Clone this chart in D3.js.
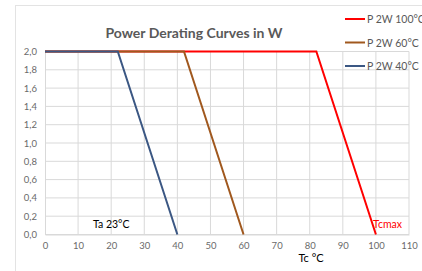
<!DOCTYPE html>
<html>
<head>
<meta charset="utf-8">
<script src="https://cdn.jsdelivr.net/npm/d3@7"></script>
<style>
  body { margin: 0; background: #fff; }
  text { font-family: Lato, "Open Sans", sans-serif; }
</style>
</head>
<body>
<div id="chart"></div>
<script>
// series: Tc (°C) -> P (W)
var seriesNames = ["P 2W 100°C", "P 2W 60°C", "P 2W 40°C"];
var seriesColors = ["#ff0000", "#a0581e", "#3b5783"];
var tc100 = [0, 82, 100];
var p100 = [2.0, 2.0, 0.0];
var tc60 = [0, 42, 60];
var p60 = [2.0, 2.0, 0.0];
var tc40 = [0, 22, 40];
var p40 = [2.0, 2.0, 0.0];
var xTicks = [0, 10, 20, 30, 40, 50, 60, 70, 80, 90, 100, 110];
var yTicks = [0, 0.2, 0.4, 0.6, 0.8, 1.0, 1.2, 1.4, 1.6, 1.8, 2.0];

var width = 422, height = 271;
var margin = { top: 51.5, right: 13, bottom: 36.5, left: 45 };

var svg = d3.select("#chart").append("svg")
    .attr("width", width)
    .attr("height", height);

// chart frame
svg.append("rect")
    .attr("x", 15.5).attr("y", 5.5)
    .attr("width", width + 10).attr("height", height + 10)
    .attr("fill", "none")
    .attr("stroke", "#e3e3e3");

var x = d3.scaleLinear().domain([0, 110]).range([margin.left, width - margin.right]);
var y = d3.scaleLinear().domain([0, 2]).range([height - margin.bottom, margin.top]);

// grid
svg.append("g").selectAll("line").data(xTicks.slice(1)).enter().append("line")
    .attr("x1", d => x(d)).attr("x2", d => x(d))
    .attr("y1", y(0)).attr("y2", y(2))
    .attr("stroke", "#d9d9d9");
svg.append("g").selectAll("line").data(yTicks).enter().append("line")
    .attr("x1", x(0)).attr("x2", x(110))
    .attr("y1", d => y(d)).attr("y2", d => y(d))
    .attr("stroke", "#d9d9d9");

// axes
var xAxis = d3.axisBottom(x).tickValues(xTicks).tickSize(0).tickPadding(8);
var gx = svg.append("g")
    .attr("transform", "translate(0," + y(0) + ")")
    .call(xAxis);
gx.select(".domain").attr("stroke", "#d9d9d9");
gx.selectAll("text").attr("fill", "#6a6a6a").attr("font-size", 9.5);

var yAxis = d3.axisLeft(y).tickValues(yTicks).tickSize(0).tickPadding(8)
    .tickFormat(d => d3.format(".1f")(d).replace(".", ","));
var gy = svg.append("g")
    .attr("transform", "translate(" + x(0) + ",0)")
    .call(yAxis);
gy.select(".domain").attr("stroke", "#d9d9d9");
gy.selectAll("text").attr("fill", "#6a6a6a").attr("font-size", 9.5);

// lines
var line = d3.line().x(d => x(d[0])).y(d => y(d[1]));
var series = [d3.zip(tc100, p100), d3.zip(tc60, p60), d3.zip(tc40, p40)];
svg.append("g").selectAll("path").data(series).enter().append("path")
    .attr("d", line)
    .attr("fill", "none")
    .attr("stroke", (d, i) => seriesColors[i])
    .attr("stroke-width", 2);

// title
svg.append("text")
    .attr("x", 194).attr("y", 38)
    .attr("text-anchor", "middle")
    .attr("font-size", 14)
    .attr("font-weight", "bold")
    .attr("fill", "#595959")
    .text("Power Derating Curves in W");

// legend
var legend = svg.append("g").selectAll("g").data(seriesNames).enter().append("g")
    .attr("transform", (d, i) => "translate(345," + (19 + i * 23.5) + ")");
legend.append("line")
    .attr("x1", 0).attr("x2", 20)
    .attr("stroke", (d, i) => seriesColors[i])
    .attr("stroke-width", 2);
legend.append("text")
    .attr("x", 22).attr("y", 4)
    .attr("font-size", 10.5)
    .attr("fill", "#595959")
    .text(d => d);

// annotations
svg.append("text")
    .attr("x", 93).attr("y", 228)
    .attr("font-size", 10.5)
    .attr("fill", "#000")
    .text("Ta 23°C");
svg.append("text")
    .attr("x", 373).attr("y", 228)
    .attr("font-size", 10.5)
    .attr("fill", "#ff0000")
    .text("Tcmax");
svg.append("text")
    .attr("x", 311).attr("y", 262)
    .attr("text-anchor", "middle")
    .attr("font-size", 11)
    .attr("fill", "#000")
    .text("Tc °C");
</script>
</body>
</html>
